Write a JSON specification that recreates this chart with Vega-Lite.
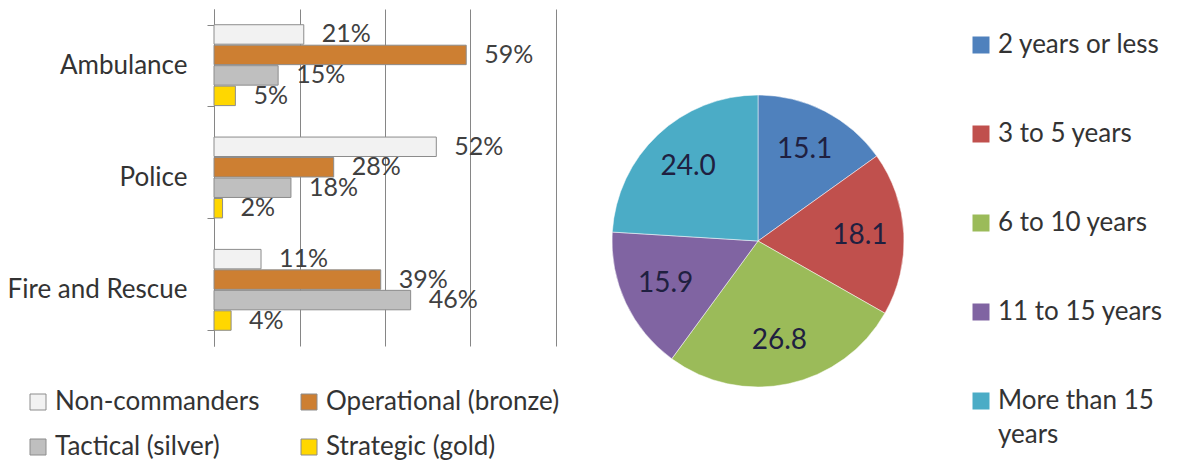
{
  "$schema": "https://vega.github.io/schema/vega-lite/v6.json",
  "background": "white",
  "padding": {"left": 7, "top": -4, "right": 0, "bottom": 0},
  "bounds": "flush",
  "spacing": 52,
  "config": {
    "view": {"stroke": null},
    "font": "Lato",
    "text": {"font": "Lato"},
    "style": {"guide-label": {"lineHeight": 34}}
  },
  "resolve": {"scale": {"color": "independent"}, "legend": {"color": "independent"}},
  "hconcat": [
    {
      "width": 342,
      "height": 337,
      "data": {
        "values": [
          {"service": "Ambulance", "role": "Non-commanders", "pct": 0.21},
          {"service": "Ambulance", "role": "Operational (bronze)", "pct": 0.59},
          {"service": "Ambulance", "role": "Tactical (silver)", "pct": 0.15},
          {"service": "Ambulance", "role": "Strategic (gold)", "pct": 0.05},
          {"service": "Police", "role": "Non-commanders", "pct": 0.52},
          {"service": "Police", "role": "Operational (bronze)", "pct": 0.28},
          {"service": "Police", "role": "Tactical (silver)", "pct": 0.18},
          {"service": "Police", "role": "Strategic (gold)", "pct": 0.02},
          {"service": "Fire and Rescue", "role": "Non-commanders", "pct": 0.11},
          {"service": "Fire and Rescue", "role": "Operational (bronze)", "pct": 0.39},
          {"service": "Fire and Rescue", "role": "Tactical (silver)", "pct": 0.46},
          {"service": "Fire and Rescue", "role": "Strategic (gold)", "pct": 0.04}
        ]
      },
      "encoding": {
        "y": {
          "field": "service", "type": "nominal",
          "sort": ["Ambulance", "Police", "Fire and Rescue"],
          "scale": {"paddingInner": 0.28, "paddingOuter": 0.14},
          "title": null,
          "axis": {
            "domainColor": "#868686", "tickColor": "#868686", "tickSize": 7,
            "tickBand": "extent", "labelFontSize": 26, "labelPadding": 20,
            "labelColor": "#333333", "labelFont": "Lato", "grid": false
          }
        },
        "yOffset": {
          "field": "role", "type": "nominal",
          "sort": ["Non-commanders", "Operational (bronze)", "Tactical (silver)", "Strategic (gold)"],
          "scale": {"paddingInner": 0.05}
        },
        "x": {
          "field": "pct", "type": "quantitative",
          "scale": {"domain": [0, 0.8], "nice": false},
          "title": null,
          "axis": {
            "values": [0, 0.2, 0.4, 0.6, 0.8], "grid": true, "gridColor": "#868686",
            "gridOpacity": 1, "labels": false, "ticks": false, "domain": false
          }
        }
      },
      "layer": [
        {
          "mark": {"type": "bar", "stroke": "#8c8c8c", "strokeWidth": 1},
          "encoding": {
            "color": {
              "field": "role", "type": "nominal",
              "sort": ["Non-commanders", "Operational (bronze)", "Tactical (silver)", "Strategic (gold)"],
              "scale": {
                "domain": ["Non-commanders", "Operational (bronze)", "Tactical (silver)", "Strategic (gold)"],
                "range": ["#F2F2F2", "#CD7F32", "#BFBFBF", "#FFD700"]
              },
              "legend": {
                "orient": "none", "legendX": -189, "legendY": 380, "columns": 2,
                "direction": "horizontal",
                "title": null, "symbolType": "square", "symbolSize": 256,
                "symbolStrokeColor": "#8c8c8c", "symbolStrokeWidth": 1,
                "symbolOpacity": 1,
                "labelFontSize": 26, "labelFont": "Lato", "labelColor": "#333333",
                "labelOffset": 4, "columnPadding": 36, "rowPadding": 19, "labelLimit": 400
              }
            }
          }
        },
        {
          "mark": {"type": "text", "align": "left", "baseline": "middle", "dx": 18, "fontSize": 25, "color": "#404040"},
          "encoding": {"text": {"field": "pct", "type": "quantitative", "format": ".0%"}}
        }
      ]
    },
    {
      "width": 300,
      "height": 464,
      "data": {
        "values": [
          {"cat": "2 years or less", "v": 15.1, "i": 1},
          {"cat": "3 to 5 years", "v": 18.1, "i": 2},
          {"cat": "6 to 10 years", "v": 26.8, "i": 3},
          {"cat": "11 to 15 years", "v": 15.9, "i": 4},
          {"cat": "More than 15 years", "v": 24.0, "i": 5}
        ]
      },
      "encoding": {
        "theta": {"field": "v", "type": "quantitative", "stack": true},
        "order": {"field": "i", "type": "quantitative"}
      },
      "layer": [
        {
          "mark": {"type": "arc", "outerRadius": 146, "stroke": "#ffffff", "strokeWidth": 0.5},
          "encoding": {
            "color": {
              "field": "cat", "type": "nominal",
              "sort": ["2 years or less", "3 to 5 years", "6 to 10 years", "11 to 15 years", "More than 15 years"],
              "scale": {
                "domain": ["2 years or less", "3 to 5 years", "6 to 10 years", "11 to 15 years", "More than 15 years"],
                "range": ["#4F81BD", "#C0504D", "#9BBB59", "#8064A2", "#4BACC6"]
              },
              "legend": {
                "orient": "none", "legendX": 360, "legendY": 23, "direction": "vertical",
                "title": null, "symbolType": "square", "symbolSize": 289, "symbolStrokeWidth": 0,
                "symbolOpacity": 1,
                "labelFontSize": 26, "labelFont": "Lato", "labelColor": "#333333",
                "labelOffset": 4, "rowPadding": 63, "labelLimit": 400,
                "labelExpr": "datum.label == 'More than 15 years' ? ['More than 15', 'years'] : datum.label"
              }
            }
          }
        },
        {
          "mark": {"type": "text", "radius": 102, "fontSize": 28, "color": "#1f2040"},
          "encoding": {"text": {"field": "v", "type": "quantitative", "format": ".1f"}}
        }
      ]
    }
  ]
}
